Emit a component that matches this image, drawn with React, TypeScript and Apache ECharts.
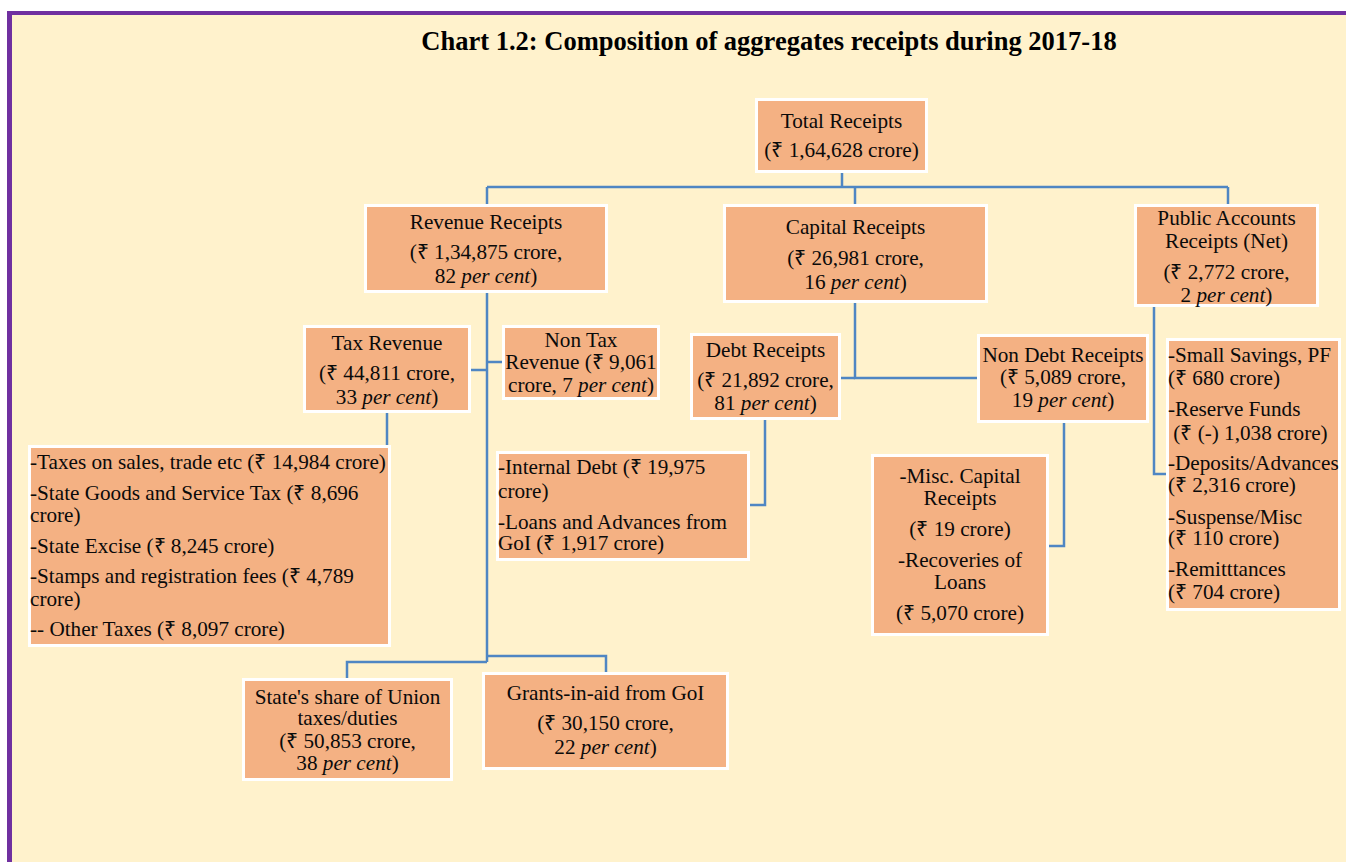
import React, { useEffect, useRef } from "react";
import * as echarts from "echarts";

// ---------- DATA ----------
const chartTitle = "Chart 1.2: Composition of aggregates receipts during 2017-18";

const nodeNames = [
  "Total Receipts",
  "Revenue Receipts",
  "Capital Receipts",
  "Public Accounts Receipts (Net)",
  "Tax Revenue",
  "Non Tax Revenue",
  "Debt Receipts",
  "Non Debt Receipts",
  "State's share of Union taxes/duties",
  "Grants-in-aid from GoI",
];
const nodeValues = [164628, 134875, 26981, 2772, 44811, 9061, 21892, 5089, 50853, 30150];
const nodeShares = [0, 82, 16, 2, 33, 7, 81, 19, 38, 22];

const taxItems = [
  "Taxes on sales, trade etc",
  "State Goods and Service Tax",
  "State Excise",
  "Stamps and registration fees",
  "Other Taxes",
];
const taxValues = [14984, 8696, 8245, 4789, 8097];

const debtItems = ["Internal Debt", "Loans and Advances from GoI"];
const debtValues = [19975, 1917];

const nonDebtItems = ["Misc. Capital Receipts", "Recoveries of Loans"];
const nonDebtValues = [19, 5070];

const publicItems = ["Small Savings, PF", "Reserve Funds", "Deposits/Advances", "Suspense/Misc", "Remitttances"];
const publicValues = [680, -1038, 2316, 110, 704];

// ---------- HELPERS ----------
function inr(n: number): string {
  const s = Math.abs(n).toString();
  if (s.length <= 3) return s;
  const last3 = s.slice(-3);
  let rest = s.slice(0, -3);
  const parts: string[] = [];
  while (rest.length > 2) {
    parts.unshift(rest.slice(-2));
    rest = rest.slice(0, -2);
  }
  if (rest) parts.unshift(rest);
  return parts.join(",") + "," + last3;
}
const R = "\u20B9";
const amt = (v: number) => (v < 0 ? `(${R} (-) ${inr(v)} crore)` : `(${R} ${inr(v)} crore)`);
const amtOpen = (v: number) => `(${R} ${inr(v)} crore,`;
const pct = (p: number) => `${p} {i|per cent})`;

const FF = "'Liberation Serif','Times New Roman',Times,serif";
const FS = 21.2;
const BG = "#FFF2CC";
const BOX = "#F4B183";
const LINE = "#4F86C3";
const PURPLE = "#7030A0";

// ---------- LAYOUT ----------
type Box = { x0: number; y0: number; x1: number; y1: number; align: "center" | "left"; tx?: number; lines: string[]; ys: number[] };

const boxes: Box[] = [
  { x0: 755, y0: 98, x1: 928, y1: 173, align: "center", lines: [nodeNames[0], amt(nodeValues[0])], ys: [121, 150] },
  { x0: 364, y0: 204, x1: 608, y1: 293, align: "center", lines: [nodeNames[1], amtOpen(nodeValues[1]), pct(nodeShares[1])], ys: [222, 252, 276] },
  { x0: 723, y0: 204, x1: 988, y1: 303, align: "center", lines: [nodeNames[2], amtOpen(nodeValues[2]), pct(nodeShares[2])], ys: [227, 258, 282] },
  { x0: 1134, y0: 204, x1: 1319, y1: 307, align: "center", lines: ["Public Accounts", "Receipts (Net)", amtOpen(nodeValues[3]), pct(nodeShares[3])], ys: [218, 241, 272, 295] },
  { x0: 303, y0: 325, x1: 471, y1: 413, align: "center", lines: [nodeNames[4], amtOpen(nodeValues[4]), pct(nodeShares[4])], ys: [343, 373, 397] },
  { x0: 502, y0: 325, x1: 660, y1: 400, align: "center", lines: ["Non Tax", `Revenue (${R} ${inr(nodeValues[5])}`, `crore, ${pct(nodeShares[5])}`], ys: [340, 362, 385] },
  {
    x0: 28, y0: 445, x1: 391, y1: 647, align: "left", tx: 30,
    lines: [
      `-${taxItems[0]} ${amt(taxValues[0])}`,
      `-${taxItems[1]} (${R} ${inr(taxValues[1])}`,
      "crore)",
      `-${taxItems[2]} ${amt(taxValues[2])}`,
      `-${taxItems[3]} (${R} ${inr(taxValues[3])}`,
      "crore)",
      `-- ${taxItems[4]} ${amt(taxValues[4])}`,
    ],
    ys: [462, 493, 515, 546, 576, 599, 629],
  },
  { x0: 690, y0: 333, x1: 841, y1: 420, align: "center", lines: [nodeNames[6], amtOpen(nodeValues[6]), pct(nodeShares[6])], ys: [350, 380, 403] },
  { x0: 977, y0: 334, x1: 1149, y1: 423, align: "center", lines: [nodeNames[7], amtOpen(nodeValues[7]), pct(nodeShares[7])], ys: [355, 377, 400] },
  {
    x0: 496, y0: 451, x1: 750, y1: 561, align: "left", tx: 498,
    lines: [
      `-${debtItems[0]} (${R} ${inr(debtValues[0])}`,
      "crore)",
      "-Loans and Advances from",
      `GoI ${amt(debtValues[1])}`,
    ],
    ys: [467, 491, 522, 543],
  },
  {
    x0: 871, y0: 454, x1: 1049, y1: 636, align: "center",
    lines: ["-Misc. Capital", "Receipts", amt(nonDebtValues[0]), "-Recoveries of", "Loans", amt(nonDebtValues[1])],
    ys: [476, 498, 529, 560, 582, 613],
  },
  {
    x0: 1166, y0: 338, x1: 1341, y1: 611, align: "left", tx: 1168,
    lines: [
      `-${publicItems[0]}`, amt(publicValues[0]),
      `-${publicItems[1]}`, "\u00A0" + amt(publicValues[1]),
      `-${publicItems[2]}`, amt(publicValues[2]),
      `-${publicItems[3]}`, amt(publicValues[3]),
      `-${publicItems[4]}`, amt(publicValues[4]),
    ],
    ys: [355, 378, 409, 433, 463, 485, 517, 538, 569, 592],
  },
  { x0: 242, y0: 678, x1: 453, y1: 781, align: "center", lines: ["State's share of Union", "taxes/duties", amtOpen(nodeValues[8]), pct(nodeShares[8])], ys: [697, 718, 741, 763] },
  { x0: 482, y0: 672, x1: 729, y1: 770, align: "center", lines: [nodeNames[9], amtOpen(nodeValues[9]), pct(nodeShares[9])], ys: [693, 723, 747] },
];

const connectors: number[][][] = [
  [[842, 173], [842, 187]],
  [[487, 187], [1228, 187]],
  [[487, 187], [487, 204]],
  [[855, 187], [855, 204]],
  [[1228, 187], [1228, 204]],
  [[487, 293], [487, 662]],
  [[471, 370], [487, 370]],
  [[487, 362], [502, 362]],
  [[387, 413], [387, 445]],
  [[487, 662], [347, 662], [347, 678]],
  [[487, 656], [606, 656], [606, 672]],
  [[855, 303], [855, 378], [977, 378]],
  [[841, 378], [855, 378]],
  [[765, 420], [765, 505], [750, 505]],
  [[1064, 423], [1064, 546], [1049, 546]],
  [[1154, 307], [1154, 474], [1166, 474]],
];

export default function App() {
  const ref = useRef<HTMLDivElement>(null);
  useEffect(() => {
    if (!ref.current) return;
    const chart = echarts.init(ref.current, null, { renderer: "svg" });
    const els: any[] = [];
    // background & frame
    els.push({ type: "rect", shape: { x: 7, y: 11, width: 1400, height: 900 }, style: { fill: BG } });
    els.push({ type: "rect", shape: { x: 7, y: 11, width: 5, height: 900 }, style: { fill: PURPLE } });
    els.push({ type: "rect", shape: { x: 7, y: 11, width: 1400, height: 4 }, style: { fill: PURPLE } });
    // title
    els.push({
      type: "text",
      style: { text: chartTitle, x: 769, y: 41, align: "center", verticalAlign: "middle", fontFamily: FF, fontSize: 26.5, fontWeight: "bold", fill: "#000" },
    });
    // connectors
    connectors.forEach((pts) => {
      els.push({ type: "polyline", shape: { points: pts }, style: { stroke: LINE, lineWidth: 2.5, fill: "none" } });
    });
    // boxes
    boxes.forEach((b) => {
      els.push({
        type: "rect",
        shape: { x: b.x0 + 1.5, y: b.y0 + 1.5, width: b.x1 - b.x0 - 3, height: b.y1 - b.y0 - 3 },
        style: { fill: BOX, stroke: "#FFFFFF", lineWidth: 3 },
      });
      const tx = b.align === "center" ? (b.x0 + b.x1) / 2 : (b.tx as number);
      b.lines.forEach((t, i) => {
        els.push({
          type: "text",
          style: {
            text: t,
            x: tx,
            y: b.ys[i],
            align: b.align,
            verticalAlign: "middle",
            fontFamily: FF,
            fontSize: FS,
            lineHeight: 20,
            fill: "#0a0a0a",
            rich: { i: { fontStyle: "italic", fontFamily: FF, fontSize: FS, lineHeight: 20, fill: "#0a0a0a" } },
          },
        });
      });
    });
    chart.setOption({ animation: false, backgroundColor: "#FFFFFF", graphic: { elements: els } });
    return () => chart.dispose();
  }, []);
  return <div ref={ref} style={{ position: "absolute", left: 0, top: 0, width: 1346, height: 862 }} />;
}
